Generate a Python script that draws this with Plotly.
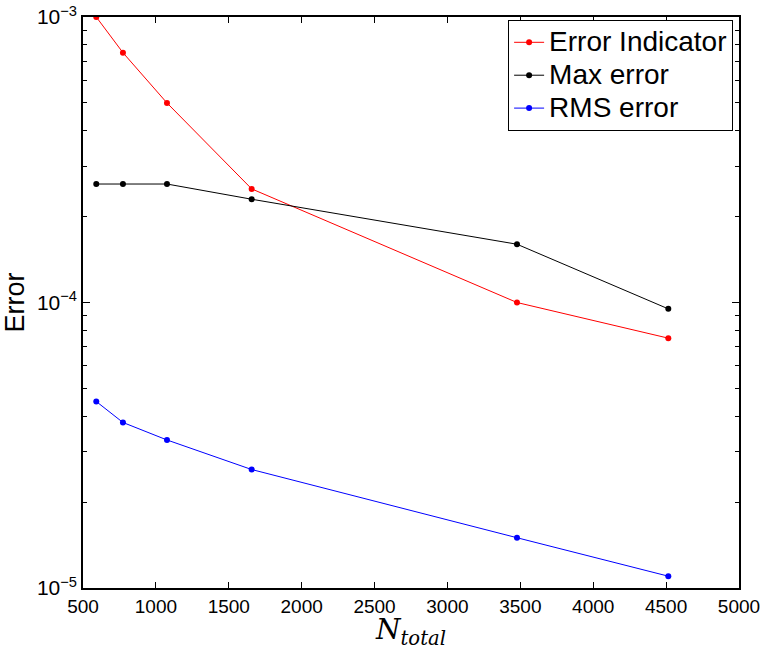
import plotly.graph_objects as go

# Number of total nodes for each refinement level
n_total = [591, 774, 1076, 1657, 3477, 4515]

# Error measures at each level
error_indicator = [1.0e-3, 7.5e-4, 5.0e-4, 2.5e-4, 1.0e-4, 7.5e-5]
max_error = [2.6e-4, 2.6e-4, 2.6e-4, 2.3e-4, 1.6e-4, 9.5e-5]
rms_error = [4.5e-5, 3.8e-5, 3.3e-5, 2.6e-5, 1.5e-5, 1.1e-5]

series = [
    ("Error Indicator", error_indicator, "#ff0000"),
    ("Max error", max_error, "#000000"),
    ("RMS error", rms_error, "#0000ff"),
]

x_ticks = [500, 1000, 1500, 2000, 2500, 3000, 3500, 4000, 4500, 5000]
y_major = [1e-5, 1e-4, 1e-3]
y_major_text = ["10<sup>−5</sup>", "10<sup>−4</sup>", "10<sup>−3</sup>"]
y_minor = [m * 10.0 ** e for e in (-5, -4) for m in range(2, 10)]

fig = go.Figure()
for name, vals, color in series:
    fig.add_trace(go.Scatter(
        x=n_total, y=vals, mode="lines+markers",
        # larger label text inside a tighter legend row
        name=f'<span style="font-size:28px">{name}</span>',
        line=dict(color=color, width=1),
        marker=dict(color=color, size=6),
    ))

fig.update_layout(
    width=762, height=650,
    margin=dict(l=83, r=23, t=17, b=62),
    paper_bgcolor="white", plot_bgcolor="white",
    font=dict(family="Liberation Sans, Arial, sans-serif", color="black", size=19),
    showlegend=True,
    legend=dict(
        x=0.991, y=0.995, xanchor="right", yanchor="top",
        bgcolor="white", bordercolor="black", borderwidth=1,
        font=dict(size=23), itemwidth=30, tracegroupgap=0,
    ),
)

fig.update_xaxes(
    range=[500, 5000], tickmode="array", tickvals=x_ticks,
    ticks="inside", ticklen=6, tickwidth=1, tickcolor="black",
    showline=True, linecolor="black", linewidth=1.5, mirror="ticks",
    showgrid=False, zeroline=False, automargin=False,
    tickfont=dict(size=19),
    title=dict(
        text="<i>N</i><sub><i>total</i></sub>",
        font=dict(family="DejaVu Serif, Liberation Serif, serif", size=28),
        standoff=10,
    ),
)

fig.update_yaxes(
    type="log", range=[-5, -3],
    tickmode="array", tickvals=y_major, ticktext=y_major_text,
    ticks="inside", ticklen=7, tickwidth=1, tickcolor="black",
    minor=dict(tickmode="array", tickvals=y_minor, ticks="inside",
               ticklen=4, tickwidth=1, tickcolor="black", showgrid=False),
    showline=True, linecolor="black", linewidth=1.5, mirror="ticks",
    showgrid=False, zeroline=False, automargin=False,
    tickfont=dict(size=21),
    title=dict(text="Error", font=dict(size=27), standoff=6),
)

fig.write_html("out.html")
